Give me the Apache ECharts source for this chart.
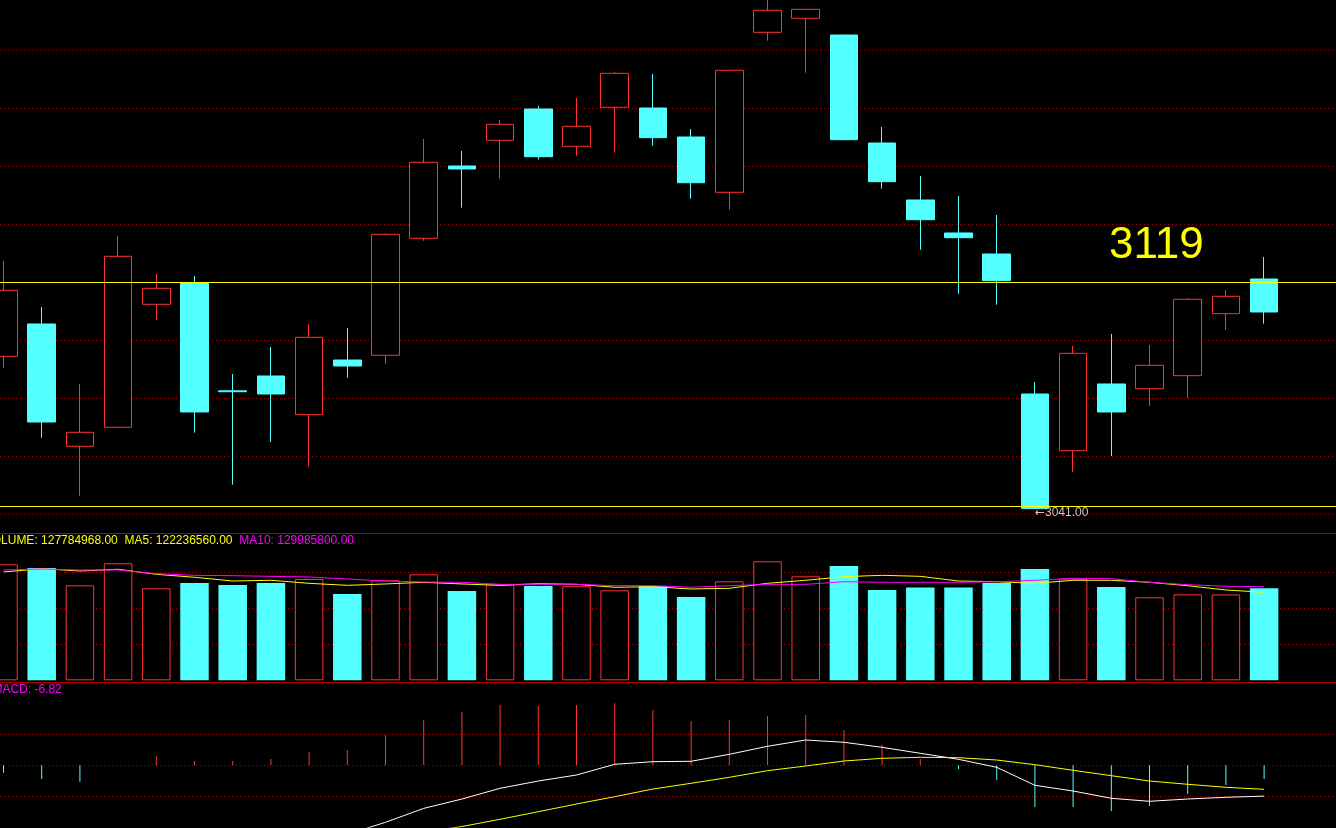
<!DOCTYPE html>
<html><head><meta charset="utf-8">
<script src="https://cdn.jsdelivr.net/npm/echarts@6/dist/echarts.min.js"></script>
<style>html,body{margin:0;padding:0;background:#000;overflow:hidden}#c{width:1336px;height:828px}</style>
</head><body><div id="c"></div>
<script>
// ---------- data ----------
const openPrices  = [3093.23,3104.48,3061.89,3068.51,3111.34,3118.76,3081.2,3086.37,3072.90,3091.94,3093.58,3134.32,3159.50,3168.45,3179.34,3166.36,3179.94,3179.69,3169.59,3150.34,3206.05,3210.93,3205.11,3167.50,3147.66,3136.17,3128.85,3080.10,3060.36,3083.59,3081.95,3086.48,3108.07,3120.15];
const closePrices = [3116.21,3070.35,3066.77,3128.05,3116.91,3073.84,3080.9,3080.10,3099.85,3089.85,3135.71,3160.79,3158.45,3174.02,3162.74,3173.32,3191.78,3169.35,3153.68,3192.82,3213.71,3214.06,3168.65,3154.03,3140.80,3134.53,3119.56,3040.2,3094.28,3073.84,3090.10,3113.08,3114.12,3108.66];
const lowPrices   = [3089.26,3064.89,3044.69,3068.3,3105.87,3066.63,3048.52,3063.39,3054.79,3085.78,3090.65,3133.48,3144.98,3155.07,3161.69,3163.08,3164.13,3166.57,3148.11,3144.28,3203.13,3191.98,3168.5,3151.59,3130.35,3115.03,3111.20,3040.2,3052.94,3058.51,3075.92,3078.61,3102.39,3104.58];
const highPrices  = [3126.42,3110.40,3083.59,3135.12,3121.89,3121.19,3087.07,3096.47,3104.48,3103.09,3136.0,3168.90,3164.72,3175.51,3180.39,3183.17,3192.23,3191.53,3172.38,3193.0,3217.5,3214.2,3205.2,3173.08,3156.01,3149.05,3142.43,3084.28,3096.82,3101.00,3097.17,3113.53,3116.32,3127.81];
const volumes = [161100000,156000000,131900000,162500000,127800000,135100000,132400000,135100000,140700000,119900000,138900000,147200000,124000000,133300000,131000000,130600000,125000000,131000000,115700000,137500000,165300000,144400000,158800000,125400000,129000000,129000000,135000000,154500000,141100000,129500000,115300000,119400000,119200000,127784968];
const volMa5  = [150400000,155000000,151800000,154200000,147200000,143100000,137900000,138900000,134700000,131900000,133800000,136100000,133800000,131900000,134200000,133300000,129200000,130000000,126800000,127800000,134700000,138900000,143900000,145800000,144400000,137900000,136900000,134700000,138900000,138900000,136100000,131400000,125400000,122236560];
const volMa10 = [153200000,154600000,153200000,153200000,148100000,145800000,145300000,144400000,143500000,140700000,137900000,136500000,136100000,133300000,133300000,133300000,131400000,131400000,129200000,131400000,133300000,133300000,136900000,136100000,136100000,136100000,136900000,138900000,141700000,141100000,136100000,132800000,130600000,129985800];
const macdHist = [-3.7,-6.85,-8.2,0,4.65,2.15,2.15,3.15,6.65,7.65,15.15,22.65,26.65,30.15,29.65,30.15,31.15,27.65,22.15,22.65,24.65,25.15,17.65,10.15,3.15,-1.85,-7.35,-20.85,-20.85,-22.85,-20.35,-14.35,-9.85,-6.82];
const difLine = [-39.63,-41.9,-43.39,-39.29,-36.49,-37.53,-37.31,-36.5,-34.08,-34.5,-28.5,-21.54,-16.87,-11.5,-7.85,-4.85,0.5,1.8,2.0,5.5,9.5,12.65,11.5,9.0,6.0,3.0,-1.0,-10.0,-12.85,-16.5,-18.0,-16.85,-16.0,-15.41];
const deaLine = [-37.78,-38.47,-39.29,-39.29,-38.82,-38.61,-38.39,-38.08,-37.41,-36.65,-35.13,-33.5,-30.6,-27.0,-23.2,-19.35,-15.7,-11.85,-9.0,-6.0,-2.7,-0.35,2.15,3.5,4.0,3.8,2.65,0.3,-2.5,-5.2,-7.85,-9.5,-11.0,-12.0];
const highLine = 3119;
const lowLine = 3041;

// ---------- style ----------
const RED = '#ff3232', CYAN = '#54ffff', GRID = '#a80000', SEP = '#b00000';
const FONT = "'Liberation Sans', Arial, sans-serif";
const n = openPrices.length;
const isUp = i => closePrices[i] >= openPrices[i];
const last = n - 1;

const gridLineAxis = (gridIndex, min, max, interval, showMin) => ({
  type: 'value', gridIndex, min, max, interval,
  axisLine: {show: false}, axisTick: {show: false}, axisLabel: {show: false},
  splitLine: {show: true, showMinLine: showMin, showMaxLine: false,
    lineStyle: {color: GRID, width: 1, type: [1, 3]}}
});

const chart = echarts.init(document.getElementById('c'));
chart.setOption({
  backgroundColor: '#000',
  animation: false,
  grid: [
    {left: 0, right: 0, top: 0, height: 514.3},
    {left: 0, right: 0, top: 536.4, height: 143.9},
    {left: 0, right: 0, top: 703.3, height: 124}
  ],
  xAxis: [0, 1, 2].map(g => ({type: 'value', gridIndex: g, min: -0.0916, max: 34.882, show: false})),
  yAxis: [
    {type: 'value', gridIndex: 0, min: 3038.21, max: 3217.30, show: false},
    gridLineAxis(0, 0, 8.8672, 1, true),
    gridLineAxis(1, 0, 199.86e6, 50e6, false),
    gridLineAxis(2, -31, 31, 15.5, false)
  ],
  series: [
    {
      type: 'candlestick', xAxisIndex: 0, yAxisIndex: 0,
      encode: {x: 0, y: [1, 2, 3, 4]},
      barWidth: 28,
      data: openPrices.map((o, i) => [i, o, closePrices[i], lowPrices[i], highPrices[i]]),
      itemStyle: {color: '#000', color0: CYAN, borderColor: RED, borderColor0: CYAN, borderWidth: 1},
      markLine: {
        silent: true, symbol: 'none', label: {show: false},
        lineStyle: {color: '#ffff00', width: 1, type: 'solid'},
        data: [{yAxis: highLine}, {yAxis: lowLine}]
      },
      markPoint: {
        silent: true,
        symbol: 'circle', symbolSize: 0,
        data: [{type: 'min', valueDim: 'lowest'}],
        label: {show: true, position: 'right', distance: 0, offset: [0, 4],
          formatter: () => '{ar|\u2190}{num|' + lowLine.toFixed(2) + '}',
          rich: {
            ar: {color: '#c8c8c8', fontSize: 12, fontFamily: "'DejaVu Sans', sans-serif"},
            num: {color: '#c8c8c8', fontSize: 12, fontFamily: FONT}
          }}
      }
    },
    {
      type: 'bar', xAxisIndex: 1, yAxisIndex: 2, barWidth: 28.5,
      data: volumes.map((v, i) => ({
        value: [i, v],
        itemStyle: isUp(i) ? {color: '#000', borderColor: RED, borderWidth: 1} : {color: CYAN, borderWidth: 0}
      }))
    },
    {type: 'line', xAxisIndex: 1, yAxisIndex: 2, symbol: 'none', data: volMa5.map((v, i) => [i, v]),
      lineStyle: {color: '#ffff00', width: 1}, z: 5},
    {type: 'line', xAxisIndex: 1, yAxisIndex: 2, symbol: 'none', data: volMa10.map((v, i) => [i, v]),
      lineStyle: {color: '#ff00ff', width: 1}, z: 5},
    {
      type: 'bar', xAxisIndex: 2, yAxisIndex: 3, barWidth: 1,
      data: macdHist.map((v, i) => ({value: [i, v], itemStyle: {color: v >= 0 ? RED : CYAN}}))
    },
    {type: 'line', xAxisIndex: 2, yAxisIndex: 3, symbol: 'none', data: difLine.map((v, i) => [i, v]),
      lineStyle: {color: '#ffffff', width: 1}, z: 5},
    {type: 'line', xAxisIndex: 2, yAxisIndex: 3, symbol: 'none', data: deaLine.map((v, i) => [i, v]),
      lineStyle: {color: '#ffff00', width: 1}, z: 5}
  ],
  graphic: [
    {type: 'line', silent: true, shape: {x1: 0, y1: 533.5, x2: 1336, y2: 533.5}, style: {stroke: SEP, lineWidth: 1}},
    {type: 'line', silent: true, shape: {x1: 0, y1: 682.5, x2: 1336, y2: 682.5}, style: {stroke: SEP, lineWidth: 1}},
    {type: 'text', silent: true, x: -16.3, y: 534.4, style: {
      text: '{a|VOLUME: ' + volumes[last].toFixed(2) + '  MA5: ' + volMa5[last].toFixed(2) + '  }{b|MA10: ' + volMa10[last].toFixed(2) + '}',
      rich: {
        a: {fill: '#ffff00', color: '#ffff00', fontSize: 12, fontFamily: FONT},
        b: {fill: '#ff00ff', color: '#ff00ff', fontSize: 12, fontFamily: FONT}
      },
      verticalAlign: 'top', align: 'left'
    }},
    {type: 'text', silent: true, x: -7.6, y: 683.7, style: {
      text: 'MACD: ' + macdHist[last].toFixed(2), fill: '#ff00ff', fontSize: 12, fontFamily: FONT,
      verticalAlign: 'top', align: 'left'
    }},
    {type: 'text', silent: true, x: 1109, y: 245.5, style: {
      text: String(highLine), fill: '#ffff00', fontSize: 44, fontFamily: FONT,
      verticalAlign: 'middle', align: 'left'
    }}
  ]
});
</script>
</body></html>
